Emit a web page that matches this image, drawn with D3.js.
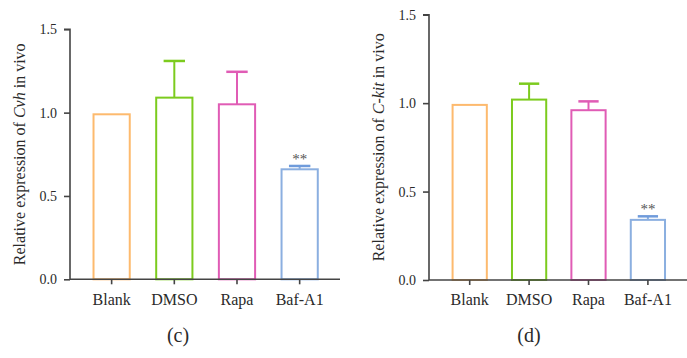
<!DOCTYPE html>
<html><head><meta charset="utf-8">
<script src="https://cdn.jsdelivr.net/npm/d3@7/dist/d3.min.js"></script>
<style>body{margin:0;background:#fff}svg{display:block}</style>
</head><body>
<svg id="c" width="687" height="358"></svg>
<script>
const categories = ["Blank", "DMSO", "Rapa", "Baf-A1"];
const colors = ["#FDBA6E", "#7CCB1E", "#E05CB5", "#8BAFE0"];
const capColors = ["#FDBA6E", "#7CCB1E", "#E05CB5", "#6F9BDB"];
const cvhMean = [0.99, 1.09, 1.05, 0.66];
const cvhUpper = [0.99, 1.31, 1.245, 0.68];
const ckitMean = [0.99, 1.02, 0.96, 0.34];
const ckitUpper = [0.99, 1.11, 1.01, 0.36];
const yTicks = [0, 0.5, 1.0, 1.5];
const sig = ["", "", "", "**"];

const svg = d3.select("#c");
const font = "'Liberation Serif','Times New Roman',serif";
const axisColor = "#444";

function panel(o) {
  const y = d3.scaleLinear().domain([0, 1.5]).range([o.y0, o.y1]);
  const x = d3.scaleBand().domain(categories).range([o.xb0, o.xb1])
    .paddingInner(0.39).paddingOuter(0.195);
  const g = svg.append("g");

  categories.forEach((c, i) => {
    const bx = x(c), bw = x.bandwidth(), cx = bx + bw / 2;
    const m = o.mean[i], u = o.upper[i];
    if (u > m) {
      g.append("line").attr("x1", cx).attr("x2", cx)
        .attr("y1", y(m)).attr("y2", y(u))
        .attr("stroke", colors[i]).attr("stroke-width", 2);
      g.append("line").attr("x1", cx - bw * 0.28).attr("x2", cx + bw * 0.28)
        .attr("y1", y(u)).attr("y2", y(u))
        .attr("stroke", capColors[i]).attr("stroke-width", 2.5);
    }
    g.append("rect").attr("x", bx + 1).attr("y", y(m))
      .attr("width", bw - 2).attr("height", y(0) - y(m))
      .attr("fill", "none").attr("stroke", colors[i]).attr("stroke-width", 2);
    if (sig[i]) {
      g.append("text").attr("x", cx).attr("y", y(u) - 2)
        .attr("text-anchor", "middle").attr("font-family", font)
        .attr("font-size", 15).attr("fill", "#555").text(sig[i]);
    }
  });

  const ya = g.append("g").attr("transform", `translate(${o.ax},0)`)
    .call(d3.axisLeft(y).tickValues(yTicks).tickFormat(d3.format(".1f")).tickSize(6).tickPadding(7));
  ya.selectAll("path").attr("stroke", axisColor).attr("stroke-width", 1.6)
    .attr("d", `M-6,${y(1.5)}H0V${y(0)}`);
  ya.selectAll("line").attr("stroke", axisColor).attr("stroke-width", 1.6);
  ya.selectAll("text").attr("font-family", font).attr("font-size", 14).attr("fill", "#2a2a2a");

  const xa = g.append("g").attr("transform", `translate(0,${y(0)})`)
    .call(d3.axisBottom(x).tickSize(5).tickPadding(9));
  xa.select("path").attr("stroke", axisColor).attr("stroke-width", 1.6)
    .attr("d", `M${o.ax},0H${o.xend}`);
  xa.selectAll("line").attr("stroke", axisColor).attr("stroke-width", 1.6);
  xa.selectAll("text").attr("font-family", font).attr("font-size", 16).attr("fill", "#2a2a2a");

  const t = g.append("text")
    .attr("transform", `translate(${o.lx},${(y(0) + y(1.5)) / 2}) rotate(-90)`)
    .attr("text-anchor", "middle").attr("font-family", font).attr("font-size", 16)
    .attr("fill", "#2a2a2a");
  t.append("tspan").text("Relative expression of ");
  t.append("tspan").attr("font-style", "italic").text(o.gene);
  t.append("tspan").text(" in vivo");

  g.append("text").attr("x", o.px).attr("y", 342).attr("text-anchor", "middle")
    .attr("font-family", font).attr("font-size", 20).attr("fill", "#2a2a2a").text(o.label);
}

panel({ y0: 279.3, y1: 29.3, xb0: 80.3, xb1: 331, ax: 70, xend: 340,
  mean: cvhMean, upper: cvhUpper, gene: "Cvh", lx: 25, px: 178, label: "(c)" });
panel({ y0: 280, y1: 14.7, xb0: 440, xb1: 677.6, ax: 429, xend: 687,
  mean: ckitMean, upper: ckitUpper, gene: "C-kit", lx: 384, px: 529, label: "(d)" });
</script>
</body></html>
